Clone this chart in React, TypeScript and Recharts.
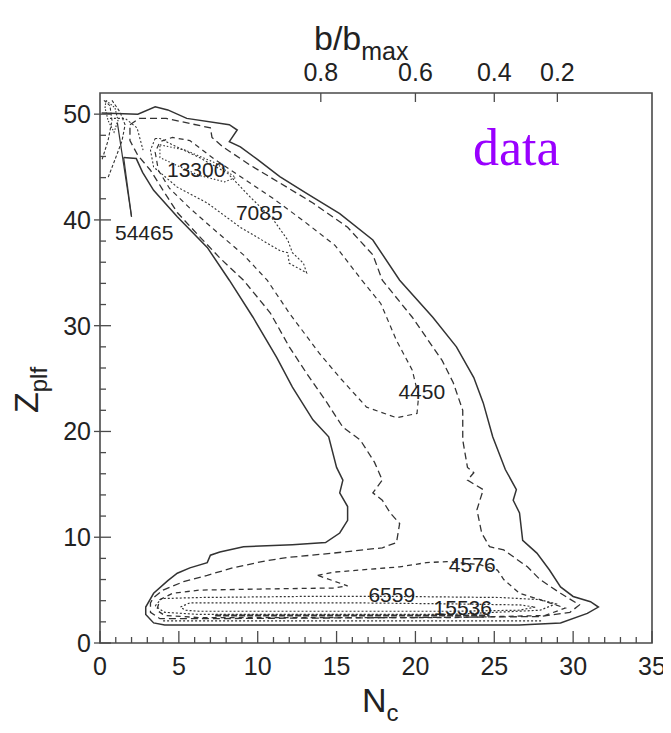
import { ScatterChart, Scatter, XAxis, YAxis, ReferenceArea } from "recharts"

// ── Types ──────────────────────────────────────────────────────────────────

type Pt = [number, number]

// ── Axes ───────────────────────────────────────────────────────────────────

const xTicks = [0, 1, 2, 3, 4, 5, 6, 7, 8, 9, 10, 11, 12, 13, 14, 15, 16, 17, 18, 19, 20, 21, 22, 23, 24, 25, 26, 27, 28, 29, 30, 31, 32, 33, 34, 35]
const yTicks = [0, 2, 4, 6, 8, 10, 12, 14, 16, 18, 20, 22, 24, 26, 28, 30, 32, 34, 36, 38, 40, 42, 44, 46, 48, 50]
const topTickPos = [14, 20, 25, 29]
const topTickLabels = ["0.8", "0.6", "0.4", "0.2"]

// ── Contours (N_c, Z_plf) ─────────────────────────────────────────────────

const outerSolid: Pt[] = [
  [0.1, 50.1], [2.4, 50.0], [3.5, 50.7], [4.3, 50.4], [5.5, 49.6], [8.2, 49.0], [8.7, 48.5],
  [8.2, 47.4], [8.9, 46.9], [10.0, 45.7], [11.4, 44.1], [13.1, 42.5], [15.2, 40.6], [17.3, 38.1],
  [19.0, 34.3], [21.1, 30.8], [22.6, 28.0], [23.7, 25.1], [24.3, 22.7], [24.9, 19.5], [25.7, 16.4],
  [26.4, 14.5], [26.2, 13.5], [26.6, 12.3], [26.8, 9.7], [27.7, 8.5], [28.5, 6.9], [29.2, 5.3],
  [30.0, 4.4], [31.1, 3.9], [31.6, 3.4], [30.9, 2.8], [29.2, 1.9], [26.6, 1.7], [12.7, 1.7],
  [4.1, 1.7], [3.4, 1.9], [2.9, 2.7], [2.9, 3.4], [3.4, 4.7], [4.3, 5.9], [4.9, 6.6], [5.7, 7.1],
  [6.8, 7.6], [7.0, 8.3], [7.6, 8.6], [9.1, 9.1], [12.2, 9.3], [14.3, 9.5], [15.2, 10.4],
  [15.7, 11.6], [15.7, 12.9], [15.2, 14.2], [15.4, 15.4], [15.0, 16.6], [14.5, 19.5], [13.5, 21.1],
  [12.2, 24.2], [11.2, 27.0], [9.7, 30.8], [8.2, 34.3], [6.8, 37.4], [4.9, 40.3], [3.4, 42.8],
  [2.7, 44.5], [2.3, 45.8], [1.5, 45.9],
]

const contour2: Pt[] = [
  [1.9, 49.0], [2.5, 49.6], [3.4, 49.6], [4.2, 49.6], [7.0, 48.7], [7.1, 47.8], [7.8, 46.9],
  [9.5, 45.2], [11.4, 43.5], [13.5, 41.6], [15.7, 39.3], [17.3, 36.7], [17.9, 34.3], [19.8, 30.8],
  [21.7, 26.7], [22.4, 24.6], [23.0, 22.0], [23.0, 19.2], [23.3, 16.6], [23.7, 16.1], [23.3, 15.4],
  [24.3, 14.5], [23.9, 12.6], [24.2, 10.4], [24.7, 9.1], [25.6, 8.8], [27.1, 7.2], [27.9, 6.0],
  [29.2, 4.7], [30.4, 3.6], [29.8, 2.9], [27.9, 2.5], [19.0, 2.4], [6.3, 2.3], [3.8, 2.3],
  [3.2, 2.9], [3.2, 3.8], [3.4, 4.3], [4.0, 5.0], [5.3, 5.8], [6.8, 6.4], [8.4, 7.1], [10.6, 7.8],
  [12.0, 8.1], [14.8, 8.5], [17.9, 9.0], [18.8, 9.5], [19.0, 11.3], [18.4, 12.3], [17.9, 13.5],
  [17.3, 14.2], [17.9, 15.4], [17.4, 17.1], [16.5, 19.2], [15.4, 20.4], [14.4, 22.7], [13.1, 25.5],
  [12.0, 28.0], [10.8, 31.2], [9.1, 34.3], [7.6, 36.4], [6.2, 38.6], [4.9, 40.7], [4.0, 42.8],
  [3.2, 44.7], [2.4, 46.1], [1.9, 47.5],
]

const contour4450: Pt[] = [
  [16.6, 34.3], [17.8, 32.1], [18.8, 28.6], [19.8, 25.8], [20.2, 23.3], [20.1, 21.7], [18.8, 21.3],
  [16.9, 22.3], [15.2, 25.1], [13.9, 27.4], [12.0, 31.2], [10.6, 34.3], [9.1, 36.7], [7.3, 39.0],
  [5.7, 41.1], [4.4, 43.0], [3.7, 44.7], [3.5, 46.4], [3.8, 47.4], [4.6, 47.8], [5.7, 47.5],
  [7.3, 45.7], [9.2, 43.8], [11.1, 41.9], [13.0, 39.8], [14.9, 37.6],
]

const contour7085: Pt[] = [
  [3.5, 47.7], [3.2, 46.6], [3.4, 45.0], [4.9, 43.1], [6.8, 41.6], [8.9, 39.3], [11.4, 37.1],
  [11.9, 36.9], [12.0, 35.9], [13.1, 35.0], [12.9, 35.9], [12.2, 36.9], [11.9, 38.1], [11.0, 40.0],
  [9.5, 42.2], [8.1, 44.4], [6.3, 45.9], [4.6, 47.1], [3.8, 47.7],
]

const contour13300: Pt[] = [
  [3.8, 47.1], [5.4, 46.6], [7.3, 45.4], [8.6, 44.0], [7.9, 43.6], [6.3, 44.2], [4.8, 45.2], [3.8, 45.9],
]

const contour4576: Pt[] = [
  [13.8, 6.4], [14.8, 6.7], [16.5, 6.9], [19.0, 7.2], [20.7, 7.6], [22.0, 7.7], [24.1, 7.4],
  [25.2, 6.9], [25.6, 6.0], [26.6, 4.7], [27.9, 4.1], [29.5, 3.3], [28.2, 2.6], [22.2, 2.4],
  [12.7, 2.4], [6.3, 2.4], [4.1, 2.6], [3.6, 3.1], [3.8, 4.1], [4.6, 4.7], [6.3, 5.0], [10.1, 5.1],
  [14.8, 5.2], [15.7, 5.4],
]

const contour6559: Pt[] = [
  [3.5, 3.5], [3.9, 4.2], [6.3, 4.3], [12.7, 4.4], [19.0, 4.4], [25.4, 4.3], [27.9, 4.1],
  [28.9, 3.7], [27.9, 3.1], [22.2, 2.7], [12.7, 2.7], [6.3, 2.7], [4.1, 2.9],
]

const contour15536: Pt[] = [
  [5.1, 3.4], [5.7, 3.8], [9.5, 3.8], [15.9, 3.8], [22.2, 3.7], [26.6, 3.6], [27.6, 3.4],
  [26.6, 3.1], [22.2, 3.0], [12.7, 3.0], [6.3, 3.0], [5.4, 3.1],
]

const bottomBand: Pt[] = [[7.3, 2.6], [24.7, 2.6]]
const bottomBand2: Pt[] = [[4.0, 2.1], [28.0, 2.1]]

// spike near the top-left corner
const spikeA: Pt[] = [[0.25, 51.3], [0.63, 50.8], [0.76, 49.4], [0.51, 47.5], [0.13, 45.7]]
const spikeB: Pt[] = [[0.76, 51.3], [1.27, 50.2], [1.59, 49.0], [1.4, 47.5], [0.95, 45.7], [0.51, 44.0]]
const spikeC: Pt[] = [[0.38, 51.3], [0.95, 50.6], [1.14, 49.4], [0.89, 48.3], [0.51, 49.4], [0.32, 50.6]]
const spikeD: Pt[] = [[0.63, 49.6], [1.59, 49.6], [2.35, 48.7], [2.73, 46.6]]
const leader1: Pt[] = [[1.1, 49.2], [2.0, 40.3]]
const leader2: Pt[] = [[1.5, 45.9], [2.0, 40.3]]

const contourLabels = [
  { x: 2.8, y: 38.8, text: "54465" },
  { x: 6.1, y: 44.8, text: "13300" },
  { x: 10.1, y: 40.7, text: "7085" },
  { x: 20.4, y: 23.8, text: "4450" },
  { x: 23.6, y: 7.4, text: "4576" },
  { x: 18.5, y: 4.6, text: "6559" },
  { x: 23.0, y: 3.4, text: "15536" },
]

// ── Styles ─────────────────────────────────────────────────────────────────

const INK = "#333"
const AXIS = "#4a4a4a"
const FONT = '"Liberation Sans", Arial, sans-serif'

const toXY = (pts: Pt[], closed = false) => {
  const out = pts.map(([x, y]) => ({ x, y }))
  if (closed) out.push({ x: pts[0][0], y: pts[0][1] })
  return out
}

const noDot = () => <g />

function BottomTick({ x, y, payload }: any) {
  const v = payload.value
  const major = v % 5 === 0
  return (
    <g>
      <line x1={x} x2={x} y1={y} y2={y - (major ? 12 : 6)} stroke={AXIS} strokeWidth={1.3} />
      {major && (
        <text x={x} y={y + 32} textAnchor="middle" fontSize={25} fill="#222" fontFamily={FONT}>
          {v}
        </text>
      )}
    </g>
  )
}

function LeftTick({ x, y, payload }: any) {
  const v = payload.value
  const major = v % 10 === 0
  return (
    <g>
      <line x1={major ? x - 6 : x} x2={x + (major ? 11 : 6)} y1={y} y2={y} stroke={AXIS} strokeWidth={1.3} />
      {major && (
        <text x={x - 9} y={y + 9} textAnchor="end" fontSize={25} fill="#222" fontFamily={FONT}>
          {v}
        </text>
      )}
    </g>
  )
}

function TopTick({ x, y, payload, index }: any) {
  return (
    <g>
      <line x1={x} x2={x} y1={y} y2={y + 9} stroke={AXIS} strokeWidth={1.3} />
      <text x={x} y={y - 12} textAnchor="middle" fontSize={25} fill="#222" fontFamily={FONT}>
        {topTickLabels[index] ?? payload.value}
      </text>
    </g>
  )
}

function ContourLabel({ cx, cy, payload }: any) {
  return (
    <text x={cx} y={cy} textAnchor="middle" dominantBaseline="central" fontSize={21} fill="#222" fontFamily={FONT}>
      {payload.text}
    </text>
  )
}

const series: Array<{ pts: Pt[]; closed: boolean; dash?: string; w: number; top?: boolean }> = [
  { pts: outerSolid, closed: false, w: 1.5 },
  { pts: contour2, closed: true, dash: "7 4", w: 1.3 },
  { pts: contour4450, closed: true, dash: "5 4", w: 1.2 },
  { pts: contour7085, closed: true, dash: "2 2", w: 1.1 },
  { pts: contour13300, closed: true, dash: "1.5 2", w: 1.1 },
  { pts: contour4576, closed: true, dash: "5 4", w: 1.3 },
  { pts: contour6559, closed: true, dash: "2 2", w: 1.2 },
  { pts: contour15536, closed: true, dash: "2 2", w: 1.2 },
  { pts: bottomBand, closed: false, dash: "6 2", w: 1.8 },
  { pts: bottomBand2, closed: false, dash: "2 2", w: 1.3 },
  { pts: spikeA, closed: false, dash: "3 2", w: 1.1 },
  { pts: spikeB, closed: false, dash: "3 2", w: 1.1 },
  { pts: spikeC, closed: true, dash: "1.5 1.5", w: 1.1 },
  { pts: spikeD, closed: false, dash: "2 2", w: 1.1 },
  { pts: leader1, closed: false, w: 1.2, top: true },
  { pts: leader2, closed: false, w: 1.2, top: true },
]

// ── Main export ────────────────────────────────────────────────────────────

export default function App() {
  return (
    <div style={{ position: "relative", width: 663, height: 725, fontFamily: FONT }}>
      <ScatterChart width={663} height={725} margin={{ top: 55, right: 19, bottom: 50, left: 32 }}>
        <XAxis
          dataKey="x"
          type="number"
          domain={[0, 35]}
          ticks={xTicks}
          interval={0}
          allowDataOverflow
          height={40}
          tickSize={0}
          tickMargin={0}
          axisLine={false}
          tickLine={false}
          tick={(p: any) => <BottomTick {...p} />}
        />
        <XAxis
          xAxisId="top"
          orientation="top"
          dataKey="x"
          type="number"
          domain={[0, 35]}
          ticks={topTickPos}
          interval={0}
          allowDataOverflow
          height={30}
          tickSize={0}
          tickMargin={0}
          axisLine={false}
          tickLine={false}
          tick={(p: any) => <TopTick {...p} />}
        />
        <YAxis
          dataKey="y"
          type="number"
          domain={[0, 52]}
          ticks={yTicks}
          interval={0}
          allowDataOverflow
          width={60}
          tickSize={0}
          tickMargin={0}
          axisLine={false}
          tickLine={false}
          tick={(p: any) => <LeftTick {...p} />}
        />
        <ReferenceArea x1={0} x2={35} y1={0} y2={52} fill="none" stroke={AXIS} strokeWidth={1.6} ifOverflow="visible" />
        {series.map((s, i) => (
          <Scatter
            key={i}
            xAxisId={s.top ? "top" : 0}
            data={toXY(s.pts, s.closed)}
            line={{ stroke: INK, strokeWidth: s.w, strokeDasharray: s.dash }}
            shape={noDot}
            legendType="none"
            isAnimationActive={false}
          />
        ))}
        <Scatter data={contourLabels} shape={(p: any) => <ContourLabel {...p} />} isAnimationActive={false} />
      </ScatterChart>

      <svg width={663} height={725} style={{ position: "absolute", left: 0, top: 0, pointerEvents: "none" }}>
        <text x={306} y={42} fontSize={34} fill="#222" fontFamily={FONT}>
          b/b
          <tspan fontSize={25} dy={10}>max</tspan>
        </text>
        <text x={354} y={704} fontSize={34} fill="#222" fontFamily={FONT}>
          N
          <tspan fontSize={24} dy={9}>c</tspan>
        </text>
        <text transform="translate(30,382) rotate(-90)" textAnchor="middle" fontSize={34} fill="#222" fontFamily={FONT}>
          Z
          <tspan fontSize={24} dy={9}>plf</tspan>
        </text>
        <text x={465} y={157} fontSize={52} fill="#9900ff" fontFamily='"Liberation Serif", "Times New Roman", serif'>
          data
        </text>
      </svg>
    </div>
  )
}
